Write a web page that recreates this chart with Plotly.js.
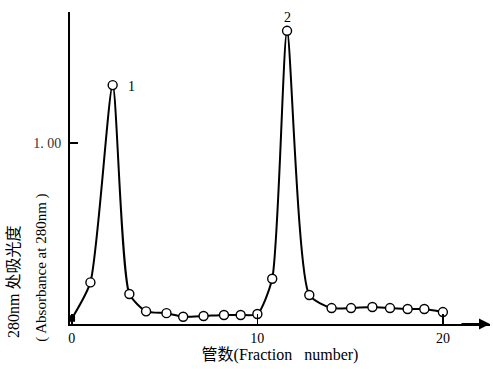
<!DOCTYPE html>
<html>
<head>
<meta charset="utf-8">
<script src="https://cdn.plot.ly/plotly-3.0.1.min.js"></script>
<style>html,body{margin:0;padding:0;background:#fff;}#chart{width:493px;height:372px;}</style>
</head>
<body>
<div id="chart"></div>
<script>
// Fraction number (tube) and absorbance at 280 nm
const fraction = [0, 1, 2.2, 3.1, 4.0, 5.1, 6.0, 7.1, 8.2, 9.1, 10, 10.8, 11.6, 12.8, 14.0, 15.05, 16.2, 17.15, 18.1, 19.0, 20];
const absorbance = [0.03, 0.23, 1.32, 0.166, 0.07, 0.06, 0.04, 0.044, 0.05, 0.05, 0.055, 0.25, 1.62, 0.16, 0.088, 0.088, 0.094, 0.088, 0.083, 0.083, 0.066];
const xTickVals = [0, 10, 20];
const xTickText = ['0', '10', '20'];
const yTickVals = [1];
const yTickText = ['1. 00'];
const peakLabels = ['1', '2'];
const peakIndex = [2, 12];

const SERIF = 'Liberation Serif, DejaVu Serif, Noto Sans CJK SC, serif';

const symbols = fraction.map((_, i) => i === 0 ? 'square' : 'circle');
const sizes = fraction.map((_, i) => i === 0 ? 5 : 9);
const fills = fraction.map((_, i) => i === 0 ? '#000' : '#fff');

const trace = {
  x: fraction, y: absorbance, type: 'scatter', mode: 'lines+markers',
  line: {color: '#000', width: 2, shape: 'spline', smoothing: 0.6},
  marker: {symbol: symbols, size: sizes, color: fills, opacity: 1, line: {color: '#000', width: 1.4}},
  cliponaxis: false, hoverinfo: 'none'
};

const annotations = [
  {x: fraction[peakIndex[0]] + 1.0, y: absorbance[peakIndex[0]] - 0.01, xref: 'x', yref: 'y', text: peakLabels[0],
   showarrow: false, font: {family: SERIF, size: 14, color: '#000'}},
  {x: fraction[peakIndex[1]], y: 1.013, xref: 'x', yref: 'paper', text: peakLabels[1],
   showarrow: false, font: {family: SERIF, size: 14, color: '#000'}},
  {x: 1, y: 0, xref: 'paper', yref: 'paper', ax: -30, ay: 0, text: '', showarrow: true,
   arrowhead: 2, arrowsize: 1.1, arrowwidth: 2, arrowcolor: '#000'},
  {x: -0.133, y: 0.135, xref: 'paper', yref: 'paper', text: '280nm 处吸光度', textangle: -90,
   showarrow: false, xanchor: 'center', yanchor: 'middle', font: {family: SERIF, size: 16, color: '#000'}},
  {x: -0.067, y: 0.18, xref: 'paper', yref: 'paper', text: '( Absorbance at 280nm )', textangle: -90,
   showarrow: false, xanchor: 'center', yanchor: 'middle', font: {family: SERIF, size: 15, color: '#000'}}
];

const layout = {
  width: 493, height: 372,
  margin: {l: 70, r: 3, t: 12, b: 48, pad: 0},
  paper_bgcolor: '#fff', plot_bgcolor: '#fff',
  showlegend: false,
  font: {family: SERIF, color: '#000', size: 14},
  xaxis: {
    range: [-0.1, 22.54], showgrid: false, zeroline: false,
    showline: true, linecolor: '#000', linewidth: 2,
    tickvals: xTickVals, ticktext: xTickText, ticks: 'inside', ticklen: 10, tickwidth: 1.5, tickcolor: '#000',
    tickfont: {family: SERIF, size: 14, color: '#000'},
    title: {text: '管数(Fraction   number)', font: {family: SERIF, size: 16, color: '#000'}, standoff: 4}
  },
  yaxis: {
    range: [0, 1.724], showgrid: false, zeroline: false,
    showline: true, linecolor: '#000', linewidth: 2,
    tickvals: yTickVals, ticktext: yTickText, ticks: 'inside', ticklen: 8, tickwidth: 1.5, tickcolor: '#000',
    tickfont: {family: SERIF, size: 14, color: '#333'}, ticklabelstandoff: 4
  },
  annotations: annotations
};

Plotly.newPlot('chart', [trace], layout, {staticPlot: true, displayModeBar: false});
</script>
</body>
</html>
